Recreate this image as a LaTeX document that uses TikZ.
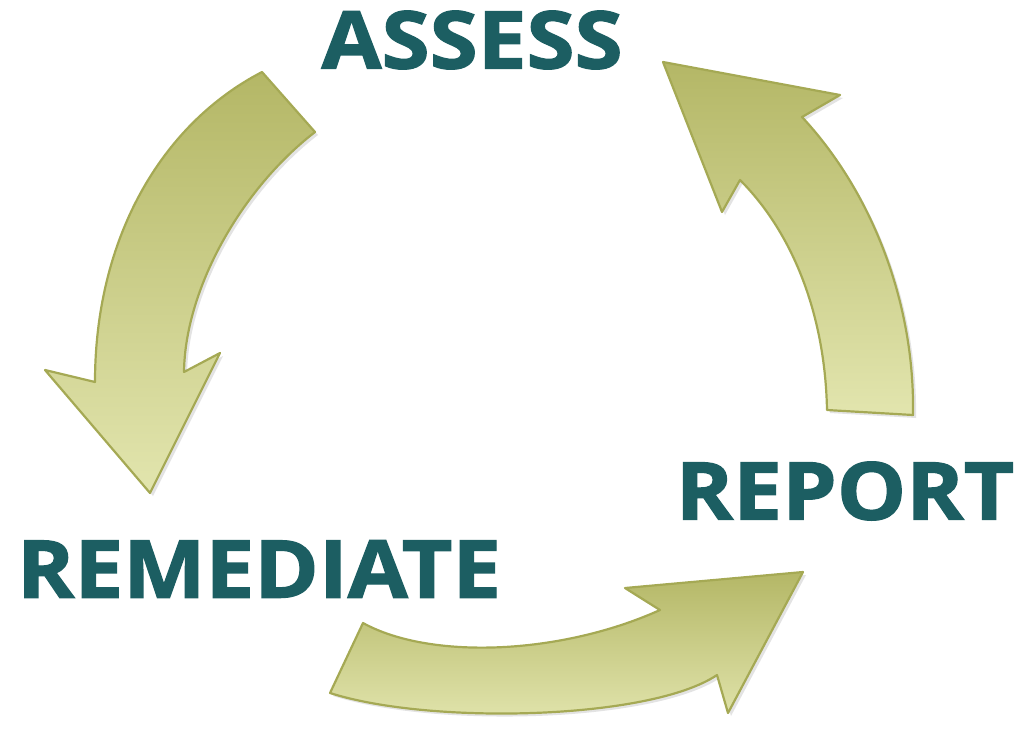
\documentclass[tikz,border=0pt]{standalone}
\usepackage{fontspec}
\newfontfamily\lblfont{Open Sans}[UprightFont=* Bold, FakeBold=1.5]
\usetikzlibrary{shadows}
\definecolor{teal}{RGB}{28,94,98}
\definecolor{olivetop}{RGB}{180,183,102}
\definecolor{olivebot}{RGB}{226,229,174}
\definecolor{oliveline}{RGB}{165,169,84}
\tikzset{
  cyclearrow/.style={draw=oliveline, line width=2.2pt, line join=round,
    top color=olivetop, bottom color=olivebot,
    drop shadow={opacity=0.18, shadow xshift=3pt, shadow yshift=-3pt, fill=black!60}},
  word/.style={inner sep=0pt, text=teal, font=\lblfont\fontsize{80}{80}\selectfont}
}
\newcommand{\widen}[1]{\scalebox{1.09}[1]{#1}}
\begin{document}
\begin{tikzpicture}[x=1pt,y=-1pt]
\useasboundingbox (0,0) rectangle (1022,732);
% left arrow (assess -> remediate)
\path[cyclearrow] (262,72) -- (315,132) .. controls (240,190) and (185,290) .. (184,372)
  -- (220,353) -- (150,493) -- (45,370) -- (95,382)
  .. controls (95,240) and (160,125) .. (262,72) -- cycle;
% bottom arrow (remediate -> report)
\path[cyclearrow] (363,623) .. controls (430,660) and (560,655) .. (660,610)
  -- (625,588) -- (803,572) -- (728,713) -- (717,675)
  .. controls (650,720) and (430,725) .. (330,693) -- cycle;
% right arrow (report -> assess)
\path[cyclearrow] (827,410) .. controls (825,310) and (790,230) .. (740,180)
  -- (722,212) -- (663,62) -- (840,95) -- (802,117)
  .. controls (870,190) and (915,300) .. (913,415) -- cycle;
\node[word] (assess) at (472,40) {\widen{ASSESS}};
\node[word] (remediate) at (259,569) {\widen{REMEDIATE}};
\node[word] (report) at (845,491) {\widen{REPORT}};
\end{tikzpicture}
\end{document}
